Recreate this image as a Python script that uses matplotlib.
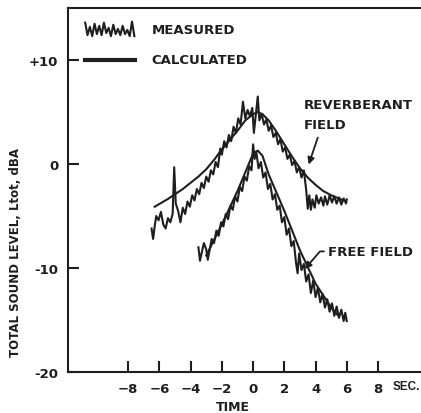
import matplotlib
matplotlib.use('Agg')

import matplotlib.pyplot as plt

plt.rcParams['font.family'] = ['DejaVu Sans']
plt.rcParams['font.weight'] = 'bold'
plt.rcParams['axes.labelweight'] = 'bold'

INK = '#1e1e1e'

# Reverberant field, measured
rev_t = [-6.5, -6.4, -6.3, -6.2, -6.05, -5.9, -5.75, -5.6, -5.45, -5.3, -5.15, -5.05,
         -4.95, -4.8, -4.65, -4.5, -4.35, -4.2, -4.05, -3.9, -3.75, -3.6, -3.45, -3.3,
         -3.15, -3.0, -2.85, -2.7, -2.55, -2.4, -2.25, -2.1, -2.0, -1.85, -1.7, -1.55,
         -1.4, -1.25, -1.1, -0.95, -0.8, -0.65, -0.5, -0.35, -0.2, -0.05, 0.05, 0.15,
         0.3, 0.4, 0.55, 0.7, 0.85, 1.0, 1.15, 1.3, 1.45, 1.6, 1.75, 1.9, 2.05, 2.2,
         2.35, 2.5, 2.65, 2.8, 2.95, 3.1, 3.25, 3.4, 3.5, 3.6, 3.7, 3.8, 3.95, 4.05,
         4.2, 4.35, 4.5, 4.6, 4.75, 4.9, 5.05, 5.2, 5.35, 5.5, 5.65, 5.8, 5.95, 6.0]
rev_meas = [-6.2, -7.2, -6.0, -5.0, -5.4, -4.6, -5.8, -6.2, -5.2, -5.6, -4.8, -0.3,
            -3.8, -4.5, -5.6, -4.2, -4.8, -3.6, -4.1, -3.0, -3.5, -2.4, -2.9, -1.8,
            -2.3, -1.2, -1.7, -0.6, -1.0, 0.2, -0.3, 1.5, 0.9, 2.2, 1.6, 2.8,
            2.2, 3.6, 3.0, 4.4, 3.8, 6.0, 4.4, 5.2, 4.6, 5.4, 3.0, 4.4,
            6.5, 4.2, 4.8, 3.8, 4.3, 3.2, 3.7, 2.6, 3.0, 1.9, 2.4, 1.2, 1.6, 0.5,
            0.9, -0.1, 0.3, -0.8, -0.3, -1.3, -0.6, -2.5, -4.3, -3.0, -4.4, -3.4, -4.2, -3.0,
            -3.8, -3.2, -4.0, -3.1, -3.9, -3.0, -3.7, -3.1, -3.8, -3.2, -3.9, -3.3, -3.8, -3.4]

# Reverberant field, calculated
rev_calc_t = [-6.3, -5.5, -5.0, -4.5, -4.0, -3.5, -3.0, -2.5, -2.0, -1.5, -1.0, -0.5,
              0.0, 0.3, 0.6, 1.0, 1.5, 2.0, 2.5, 3.0, 3.5, 4.0, 4.5, 5.0, 5.8]
rev_calc = [-4.1, -3.4, -2.9, -2.4, -1.8, -1.2, -0.5, 0.4, 1.4, 2.3, 3.2, 4.2,
            4.8, 5.0, 4.8, 4.2, 3.1, 1.9, 0.7, -0.4, -1.3, -2.0, -2.6, -3.0, -3.5]

# Free field, measured
free_t = [-3.5, -3.4, -3.3, -3.15, -3.0, -2.9, -2.8, -2.65, -2.5, -2.35, -2.2, -2.05,
          -1.9, -1.75, -1.6, -1.45, -1.3, -1.15, -1.0, -0.85, -0.7, -0.55, -0.4, -0.25,
          -0.1, 0.0, 0.1, 0.2, 0.35, 0.5, 0.65, 0.8, 0.95, 1.1, 1.25, 1.4, 1.55, 1.7,
          1.85, 2.0, 2.15, 2.3, 2.45, 2.6, 2.75, 2.85, 2.95, 3.1, 3.25, 3.4, 3.55, 3.7,
          3.85, 4.0, 4.15, 4.3, 4.45, 4.6, 4.75, 4.9, 5.05, 5.2, 5.35, 5.5, 5.65, 5.8,
          5.9, 6.0]
free_meas = [-8.0, -9.3, -8.6, -7.6, -8.2, -9.2, -8.4, -7.2, -7.6, -6.4, -6.9, -5.6,
             -6.0, -4.8, -5.3, -4.0, -4.4, -3.1, -3.6, -2.2, -2.6, -1.2, -1.6, -0.2,
             -0.6, 1.9, 0.5, 1.2, -0.4, 0.2, -1.3, -0.8, -2.4, -1.9, -3.4, -2.9, -4.4, -4.0,
             -5.6, -5.1, -6.8, -6.2, -7.9, -7.4, -9.5, -10.5, -8.6, -10.2, -9.6, -11.3, -10.6, -12.4,
             -11.2, -12.8, -11.9, -13.3, -12.5, -13.8, -13.0, -14.2, -13.4, -14.6, -13.7, -14.8, -14.0, -15.1,
             -14.3, -15.1]

# Free field, calculated
free_calc_t = [-3.0, -2.0, -1.0, -0.5, 0.0, 0.3, 0.6, 1.0, 2.0, 3.0, 4.0, 5.0, 5.4]
free_calc = [-8.8, -5.8, -2.6, -0.8, 1.0, 1.3, 0.8, -1.0, -4.5, -8.3, -11.5, -13.8, -14.5]

# legend glyph for the measured trace
key_t = [-10.75, -10.6, -10.45, -10.3, -10.15, -10.0, -9.85, -9.7, -9.55, -9.4, -9.25,
         -9.1, -8.95, -8.8, -8.65, -8.5, -8.35, -8.2, -8.05, -7.9, -7.75, -7.6]
key_y = [13.6, 12.4, 13.2, 12.3, 13.5, 12.5, 13.3, 12.4, 13.6, 12.6, 13.1,
         12.3, 13.4, 12.5, 13.0, 12.4, 13.3, 12.5, 12.9, 12.3, 13.7, 12.3]

xticks = [-8, -6, -4, -2, 0, 2, 4, 6, 8]
xticklabels = ['\u22128', '\u22126', '\u22124', '\u22122', '0', '2', '4', '6', '8']
yticks = [-20, -10, 0, 10]
yticklabels = ['-20', '-10', '0', '+10']

fig = plt.figure(figsize=(4.21, 4.14), dpi=100)
ax = fig.add_axes([0.1615, 0.099, 0.8385, 0.879])

ax.plot(rev_t, rev_meas, color=INK, lw=1.5)
ax.plot(rev_calc_t, rev_calc, color=INK, lw=1.5)
ax.plot(free_t, free_meas, color=INK, lw=1.5)
ax.plot(free_calc_t, free_calc, color=INK, lw=1.5)

# hand-drawn key
ax.plot(key_t, key_y, color=INK, lw=1.5)
ax.plot([-10.75, -7.55], [10.0, 10.0], color=INK, lw=3)
ax.text(-6.5, 12.9, 'MEASURED', fontsize=9.5, va='center', color=INK)
ax.text(-6.5, 10.1, 'CALCULATED', fontsize=9.5, va='center', color=INK)

ax.text(3.25, 4.8, 'REVERBERANT\nFIELD', fontsize=9.5, va='center', ha='left',
        linespacing=1.7, color=INK)
ax.annotate('', xy=(3.5, -0.3), xytext=(4.2, 2.8),
            arrowprops=dict(arrowstyle='-|>', color=INK, lw=1.3, mutation_scale=10))
ax.annotate('FREE FIELD', xy=(3.3, -10.1), xytext=(4.8, -8.4),
            fontsize=9.5, va='center', ha='left', color=INK,
            arrowprops=dict(arrowstyle='-|>', color=INK, lw=1.3, mutation_scale=10,
                            connectionstyle='angle,angleA=0,angleB=49,rad=0',
                            shrinkA=1, shrinkB=0))

ax.set_xlim(-11.85, 10.75)
ax.set_ylim(-20, 15)
ax.set_xticks(xticks)
ax.set_xticklabels(xticklabels)
ax.set_yticks(yticks)
ax.set_yticklabels(yticklabels)
ax.tick_params(direction='in', length=8, width=1.5, colors=INK, labelsize=9.5, pad=7)
ax.text(8.95, -21.35, 'SEC.', fontsize=8.5, va='center', ha='left', color=INK,
        family='Liberation Sans')

for side in ['left', 'top', 'bottom']:
    ax.spines[side].set_linewidth(1.5)
    ax.spines[side].set_color(INK)
ax.spines['right'].set_visible(False)

ax.set_xlabel('TIME', fontsize=9, color=INK)
ax.xaxis.set_label_coords(0.467, -0.076)
ax.set_ylabel('TOTAL SOUND LEVEL, Ltot, dBA', fontsize=8.5, color=INK)
ax.yaxis.set_label_coords(-0.13, 0.33)

plt.savefig('out.png', dpi=100)
